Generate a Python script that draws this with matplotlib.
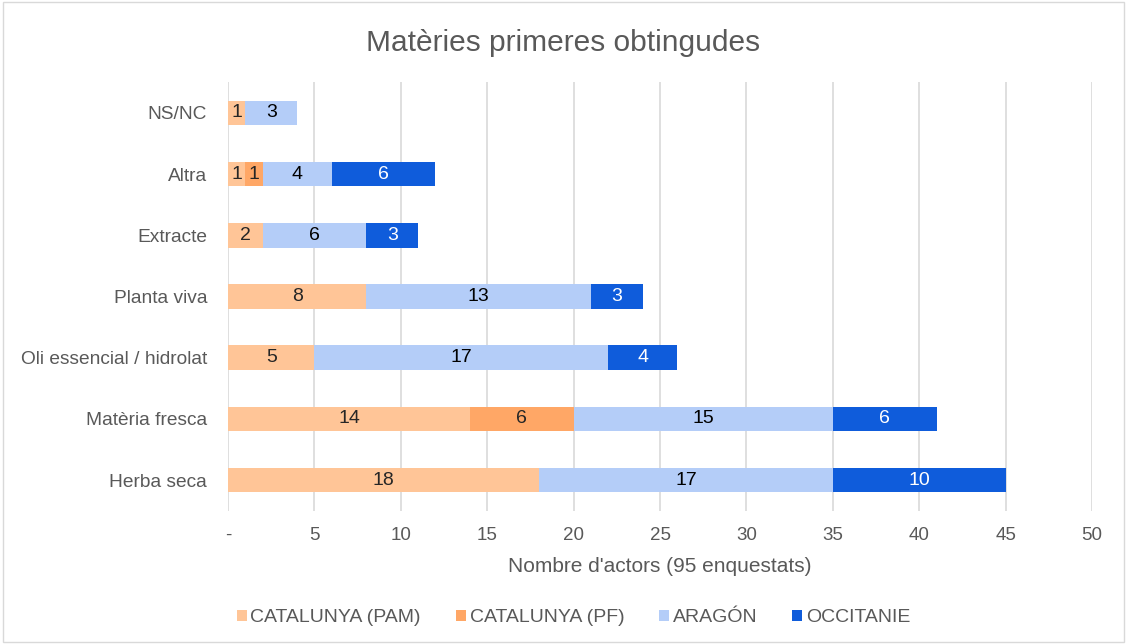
import numpy as np
import matplotlib.pyplot as plt
from matplotlib.patches import Rectangle

categories = ["Herba seca", "Matèria fresca", "Oli essencial / hidrolat", "Planta viva",
              "Extracte", "Altra", "NS/NC"]
series = ["CATALUNYA (PAM)", "CATALUNYA (PF)", "ARAGÓN", "OCCITANIE"]
cat_pam = [18, 14, 5, 8, 2, 1, 1]
cat_pf = [0, 6, 0, 0, 0, 1, 0]
aragon = [17, 15, 17, 13, 6, 4, 3]
occitanie = [10, 6, 4, 3, 3, 6, 0]
xticks = [0, 5, 10, 15, 20, 25, 30, 35, 40, 45, 50]
xtick_labels = ["-"] + [str(v) for v in xticks[1:]]

colors = ["#FFC597", "#FFA766", "#B4CDF8", "#0F5CDB"]
text_colors = ["#262626", "#262626", "#000000", "#FFFFFF"]
grey = "#595959"

plt.rcParams['font.family'] = ['Liberation Sans', 'DejaVu Sans']

fig = plt.figure(figsize=(11.27, 6.44), dpi=100)
ax = fig.add_axes([0.2023, 0.2071, 0.7667, 0.665])

y = np.arange(len(categories))
left = np.zeros(len(categories))
for vals, col, tc, name in zip([cat_pam, cat_pf, aragon, occitanie], colors, text_colors, series):
    vals = np.array(vals)
    ax.barh(y, vals, left=left, height=0.4, color=col, label=name, zorder=3)
    for yi, v, l in zip(y, vals, left):
        if v > 0:
            ax.text(l + v / 2, yi, str(v), ha="center", va="center", fontsize=14, color=tc, zorder=4)
    left = left + vals

ax.set_xlim(0, 50)
ax.set_ylim(-0.5, len(categories) - 0.5)
ax.set_xticks(xticks)
ax.set_xticklabels(xtick_labels, fontsize=13.5, color=grey)
ax.set_yticks(y)
ax.set_yticklabels(categories, fontsize=13.8, color=grey)
ax.tick_params(axis="both", length=0)
ax.tick_params(axis="x", pad=12)
ax.tick_params(axis="y", pad=15)
ax.grid(axis="x", color="#D9D9D9", linewidth=1.2, zorder=0)
for s in ax.spines.values():
    s.set_visible(False)

ax.set_xlabel("Nombre d'actors (95 enquestats)", fontsize=15, color=grey, labelpad=9)
fig.text(0.5, 0.934, "Matèries primeres obtingudes", ha="center", va="center", fontsize=21.5, color=grey)

fig.legend(loc="center", bbox_to_anchor=(0.509, 0.041), ncol=4, frameon=False, fontsize=14,
           handlelength=0.5, handleheight=0.5, handletextpad=0.2, columnspacing=1.8,
           labelcolor=grey)

fig.patches.append(Rectangle((0.003, 0.003), 0.994, 0.994, transform=fig.transFigure,
                             fill=False, edgecolor="#D9D9D9", linewidth=1))

fig.savefig("out.png", dpi=100)
